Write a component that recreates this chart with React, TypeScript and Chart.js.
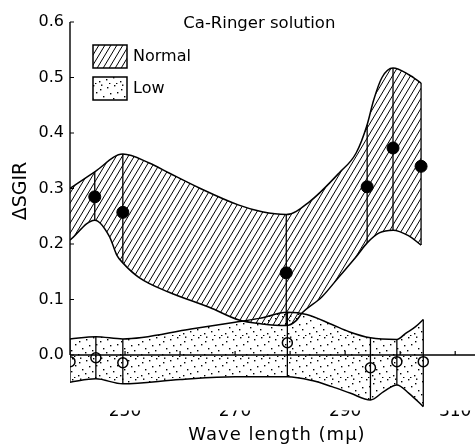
import { useEffect, useRef } from 'react';
import { Chart, registerables } from 'chart.js';

Chart.register(...registerables);

const FONT = '"DejaVu Sans", sans-serif';

// ---- data ----
const normalWavelengths = [244.5, 249.6, 279.3, 294.0, 298.7, 303.8];
const normalValues = [0.285, 0.257, 0.148, 0.303, 0.373, 0.340];

const lowWavelengths = [240.0, 244.7, 249.6, 279.5, 294.6, 299.4, 304.2];
const lowValues = [-0.012, -0.005, -0.014, 0.022, -0.023, -0.012, -0.012];

// Normal band envelope
const normalUpperX = [240, 244.5, 249.6, 254.4, 258, 263.5, 270.7, 274.9, 279.3, 283.5, 288.9, 292, 294.0, 295.2, 296.7, 298.7, 301.6, 303.8];
const normalUpperY = [0.300, 0.330, 0.362, 0.346, 0.328, 0.301, 0.270, 0.258, 0.253, 0.276, 0.328, 0.364, 0.415, 0.460, 0.500, 0.517, 0.505, 0.490];
const normalLowerX = [240, 244.5, 247.2, 248.5, 249.6, 252.5, 258, 265.3, 270.7, 274.9, 279.3, 281.1, 282.2, 285.8, 288.9, 292, 294.0, 296.2, 298.7, 301.5, 303.8];
const normalLowerY = [0.207, 0.243, 0.213, 0.180, 0.166, 0.140, 0.113, 0.086, 0.063, 0.056, 0.053, 0.062, 0.076, 0.105, 0.141, 0.177, 0.202, 0.220, 0.225, 0.215, 0.198];

// Low band envelope
const lowUpperX = [240, 244.7, 249.6, 262, 270, 274.4, 279.5, 283, 287.6, 290.7, 294.6, 299.4, 301.0, 302.8, 304.2];
const lowUpperY = [0.029, 0.033, 0.029, 0.047, 0.059, 0.066, 0.077, 0.073, 0.055, 0.042, 0.031, 0.028, 0.039, 0.051, 0.064];
const lowLowerX = [240, 244.7, 249.6, 260, 270, 279.5, 284, 287.6, 291, 294.6, 297, 299.4, 301.6, 304.2];
const lowLowerY = [-0.049, -0.043, -0.052, -0.044, -0.039, -0.039, -0.046, -0.057, -0.069, -0.081, -0.066, -0.054, -0.069, -0.093];

const xTickLabels = [250, 270, 290, 310];
const xTickMarks = [250, 260, 270, 280, 290, 300, 310];
const yTickLabels = [0, 0.1, 0.2, 0.3, 0.4, 0.5, 0.6];

const seriesNames = ['Normal', 'Low'];
const chartTitle = 'Ca-Ringer solution';
const xTitle = 'Wave length (m\u03bc)';
const yTitle = '\u0394SGIR';

// ---- helpers ----
const zip = (xs: number[], ys: number[]) => xs.map((x, i) => ({ x, y: ys[i] }));
const at = (xs: number[], ys: number[], x: number) => ys[xs.indexOf(x)];
const verticals = (pos: number[], lx: number[], ly: number[], ux: number[], uy: number[]) => {
  const out: { x: number; y: number | null }[] = [];
  pos.forEach((x) => {
    out.push({ x, y: at(lx, ly, x) });
    out.push({ x, y: at(ux, uy, x) });
    out.push({ x, y: null });
  });
  return out;
};

function makeHatch(): CanvasPattern | string {
  const w = 6;
  const h = 10;
  const c = document.createElement('canvas');
  c.width = w;
  c.height = h;
  const g = c.getContext('2d');
  if (!g) return '#000';
  g.strokeStyle = '#000';
  g.lineWidth = 1;
  for (let k = -1; k <= 1; k++) {
    g.beginPath();
    g.moveTo(k * w - w, 2 * h);
    g.lineTo(k * w + 2 * w, -h);
    g.stroke();
  }
  return g.createPattern(c, 'repeat') || '#000';
}

function makeDots(): CanvasPattern | string {
  const s = 21;
  const c = document.createElement('canvas');
  c.width = s;
  c.height = s;
  const g = c.getContext('2d');
  if (!g) return '#888';
  g.fillStyle = '#000';
  const dots = [
    [2, 3], [9, 1], [16, 5], [5, 9], [12, 8], [19, 12], [1, 16], [8, 14], [15, 18], [11, 20], [4, 20], [17, 0.5],
  ];
  dots.forEach(([x, y]) => g.fillRect(x, y, 1.4, 1.4));
  return g.createPattern(c, 'repeat') || '#888';
}

export default function App() {
  const ref = useRef<HTMLCanvasElement | null>(null);

  useEffect(() => {
    const canvas = ref.current;
    if (!canvas) return;
    const hatch = makeHatch();
    const dots = makeDots();

    const decor = {
      id: 'decor',
      beforeDatasetsDraw(chart: any) {
        const { ctx } = chart;
        const xs = chart.scales.x;
        const ys = chart.scales.y;
        const y0 = ys.getPixelForValue(0);
        const xl = xs.getPixelForValue(240);
        ctx.save();
        ctx.strokeStyle = '#000';
        ctx.lineWidth = 1.4;
        ctx.beginPath();
        ctx.moveTo(xl, y0);
        ctx.lineTo(chart.width, y0);
        ctx.moveTo(xl, ys.getPixelForValue(0.6));
        ctx.lineTo(xl, y0);
        ctx.stroke();
        ctx.lineWidth = 1.2;
        ctx.beginPath();
        xTickMarks.forEach((v) => {
          const px = xs.getPixelForValue(v);
          ctx.moveTo(px, y0);
          ctx.lineTo(px, y0 - 4);
        });
        yTickLabels.forEach((v) => {
          const py = ys.getPixelForValue(v);
          ctx.moveTo(xl, py);
          ctx.lineTo(xl + 4, py);
        });
        ctx.stroke();
        ctx.restore();
      },
      afterDraw(chart: any) {
        const { ctx } = chart;
        const xs = chart.scales.x;
        ctx.save();
        ctx.fillStyle = '#000';
        ctx.strokeStyle = '#000';
        // title inside plot
        ctx.font = `16.5px ${FONT}`;
        ctx.textAlign = 'center';
        ctx.textBaseline = 'alphabetic';
        ctx.fillText(chartTitle, xs.getPixelForValue(274.4), 28);
        // x title
        ctx.font = `18px ${FONT}`;
        try { (ctx as any).letterSpacing = '1px'; } catch (e) { /* ignore */ }
        ctx.fillText(xTitle, 277, 440);
        try { (ctx as any).letterSpacing = '0px'; } catch (e) { /* ignore */ }
        // y title
        ctx.save();
        ctx.translate(26, 191);
        ctx.rotate(-Math.PI / 2);
        ctx.font = `19px ${FONT}`;
        ctx.textAlign = 'center';
        ctx.textBaseline = 'alphabetic';
        ctx.fillText(yTitle, 0, 0);
        ctx.restore();
        // legend
        const boxes = [hatch, dots];
        ctx.lineWidth = 1.5;
        ctx.font = `16px ${FONT}`;
        ctx.textAlign = 'left';
        ctx.textBaseline = 'middle';
        seriesNames.forEach((name, i) => {
          const top = 45 + i * 32;
          ctx.fillStyle = boxes[i];
          ctx.fillRect(93, top, 34, 23);
          ctx.strokeRect(93, top, 34, 23);
          ctx.fillStyle = '#000';
          ctx.fillText(name, 133, top + 12);
        });
        ctx.restore();
      },
    };

    const chart = new Chart(canvas, {
      type: 'line',
      data: {
        datasets: [
          {
            label: 'Normal points',
            data: zip(normalWavelengths, normalValues),
            showLine: false,
            pointRadius: 6,
            pointBackgroundColor: '#000',
            pointBorderColor: '#000',
            order: 0,
          },
          {
            label: 'Low points',
            data: zip(lowWavelengths, lowValues),
            showLine: false,
            pointRadius: 5,
            pointBorderWidth: 1.5,
            pointBackgroundColor: 'rgba(0,0,0,0)',
            pointBorderColor: '#000',
            order: 0,
          },
          {
            label: 'Normal verticals',
            data: verticals(normalWavelengths, normalLowerX, normalLowerY, normalUpperX, normalUpperY),
            borderColor: '#000',
            borderWidth: 1.3,
            pointRadius: 0,
            tension: 0,
            spanGaps: false,
            fill: false,
            order: 1,
          },
          {
            label: 'Low verticals',
            data: verticals(lowWavelengths, lowLowerX, lowLowerY, lowUpperX, lowUpperY),
            borderColor: '#000',
            borderWidth: 1.3,
            pointRadius: 0,
            tension: 0,
            spanGaps: false,
            fill: false,
            order: 1,
          },
          {
            label: 'Normal upper',
            data: zip(normalUpperX, normalUpperY),
            borderColor: '#000',
            borderWidth: 1.5,
            backgroundColor: hatch as any,
            pointRadius: 0,
            cubicInterpolationMode: 'monotone',
            fill: '+1',
            order: 2,
          },
          {
            label: 'Normal lower',
            data: zip(normalLowerX, normalLowerY),
            borderColor: '#000',
            borderWidth: 1.5,
            pointRadius: 0,
            cubicInterpolationMode: 'monotone',
            fill: false,
            order: 2,
          },
          {
            label: 'Low upper',
            data: zip(lowUpperX, lowUpperY),
            borderColor: '#000',
            borderWidth: 1.5,
            backgroundColor: dots as any,
            pointRadius: 0,
            cubicInterpolationMode: 'monotone',
            fill: '+1',
            order: 3,
          },
          {
            label: 'Low lower',
            data: zip(lowLowerX, lowLowerY),
            borderColor: '#000',
            borderWidth: 1.5,
            pointRadius: 0,
            cubicInterpolationMode: 'monotone',
            fill: false,
            order: 3,
          },
        ] as any,
      },
      options: {
        responsive: false,
        animation: false,
        layout: { autoPadding: false, padding: { top: 22, right: 0, bottom: 0, left: 0 } },
        plugins: {
          legend: { display: false },
          tooltip: { enabled: false },
        },
        scales: {
          x: {
            type: 'linear',
            min: 240,
            max: 313.6,
            grid: { display: false, drawTicks: false },
            border: { display: false },
            afterBuildTicks: (s: any) => {
              s.ticks = xTickLabels.map((v) => ({ value: v }));
            },
            afterFit: (s: any) => {
              s.height = 36.5;
              s.paddingLeft = 0;
              s.paddingRight = 0;
            },
            ticks: {
              padding: -9,
              color: '#000',
              autoSkip: false,
              maxRotation: 0,
              font: { family: FONT, size: 17 },
              callback: (v: any) => String(v),
            },
          },
          y: {
            type: 'linear',
            min: -0.1,
            max: 0.6,
            grid: { display: false, drawTicks: false },
            border: { display: false },
            afterBuildTicks: (s: any) => {
              s.ticks = yTickLabels.map((v) => ({ value: v }));
            },
            afterFit: (s: any) => {
              s.width = 70;
            },
            ticks: {
              padding: 6,
              color: '#000',
              font: { family: FONT, size: 16 },
              callback: (v: any) => Number(v).toFixed(1),
            },
          },
        },
      } as any,
      plugins: [decor],
    });

    return () => chart.destroy();
  }, []);

  return (
    <div style={{ position: 'fixed', left: 0, top: 0, width: 475, height: 447, background: '#fff' }}>
      <canvas ref={ref} width={475} height={447} style={{ display: 'block' }} />
    </div>
  );
}
